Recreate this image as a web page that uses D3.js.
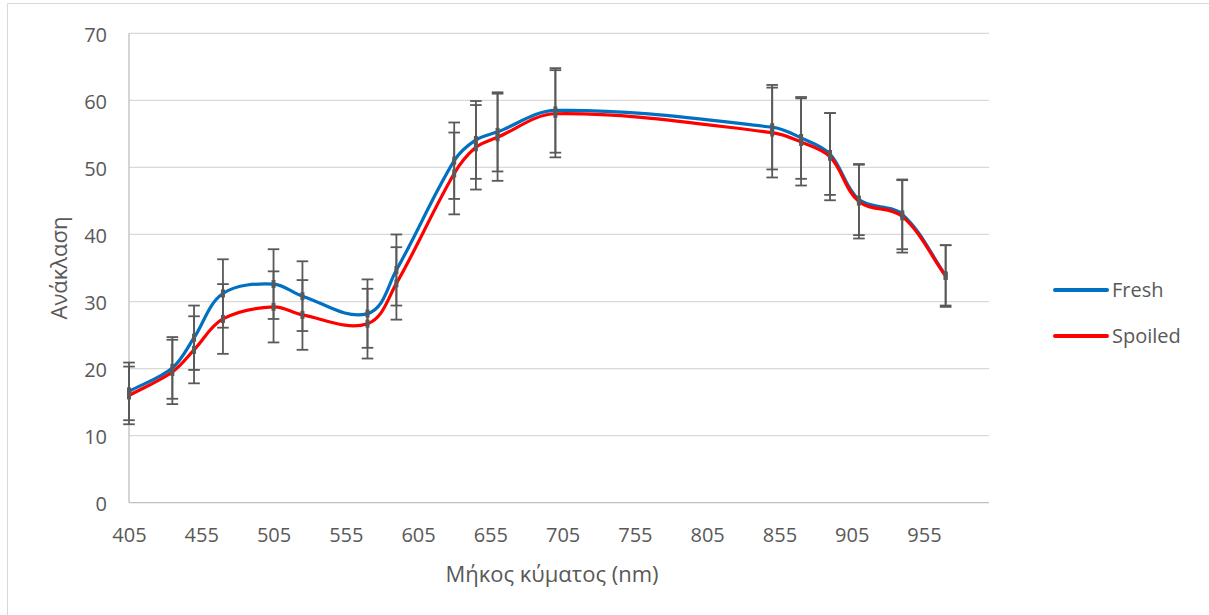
<!DOCTYPE html>
<html>
<head>
<meta charset="utf-8">
<script src="https://cdn.jsdelivr.net/npm/d3@7"></script>
<style>
  html, body { margin: 0; padding: 0; background: #fff; }
  svg { display: block; }
  text { font-family: "Open Sans", "Noto Sans", sans-serif; fill: #595959; }
</style>
</head>
<body>
<svg id="chart" width="1209" height="615"></svg>
<script>
// Reflectance spectra (mean ± SD) of fresh and spoiled samples
const wavelengths = [405, 435, 450, 470, 505, 525, 570, 590, 630, 645, 660, 700, 850, 870, 890, 910, 940, 970];
const freshValues   = [16.6, 20.1, 24.6, 31.2, 32.6, 30.8, 28.2, 34.7, 51.0, 54.1, 55.3, 58.5, 56.0, 54.4, 52.0, 45.2, 43.0, 33.9];
const freshErrors   = [4.3, 4.6, 4.8, 5.1, 5.2, 5.2, 5.1, 5.3, 5.7, 5.8, 5.9, 6.3, 6.3, 6.1, 6.1, 5.3, 5.2, 4.5];
const spoiledValues = [16.0, 19.5, 22.8, 27.4, 29.2, 28.0, 26.7, 32.7, 49.1, 53.0, 54.5, 58.0, 55.2, 53.8, 51.6, 44.9, 42.7, 33.8];
const spoiledErrors = [4.3, 4.8, 5.0, 5.2, 5.3, 5.2, 5.2, 5.4, 6.1, 6.3, 6.5, 6.5, 6.7, 6.5, 6.5, 5.5, 5.4, 4.6];
const seriesNames = ["Fresh", "Spoiled"];
const seriesColors = ["#0070C0", "#FF0000"];
const xTickValues = [405, 455, 505, 555, 605, 655, 705, 755, 805, 855, 905, 955];
const yTickValues = [0, 10, 20, 30, 40, 50, 60, 70];
const xTitle = "Μήκος κύματος (nm)";
const yTitle = "Ανάκλαση";

const series = [
  { name: seriesNames[0], color: seriesColors[0],
    points: wavelengths.map((w, i) => ({ x: w, y: freshValues[i], e: freshErrors[i] })) },
  { name: seriesNames[1], color: seriesColors[1],
    points: wavelengths.map((w, i) => ({ x: w, y: spoiledValues[i], e: spoiledErrors[i] })) }
];

const svg = d3.select("#chart");
const plot = { left: 129, right: 989, top: 33.3, bottom: 502.7 };

const x = d3.scaleLinear().domain([405, 1000]).range([plot.left, plot.right]);
const y = d3.scaleLinear().domain([0, 70]).range([plot.bottom, plot.top]);

// chart frame
svg.append("path")
  .attr("d", "M7.5,615 L7.5,3.5 L1209,3.5")
  .attr("fill", "none").attr("stroke", "#d9d9d9").attr("stroke-width", 1);

// horizontal gridlines
svg.append("g")
  .selectAll("line")
  .data(yTickValues.filter(v => v > 0))
  .join("line")
  .attr("x1", plot.left).attr("x2", plot.right)
  .attr("y1", d => y(d)).attr("y2", d => y(d))
  .attr("stroke", "#d9d9d9").attr("stroke-width", 1.3);

// axis lines
svg.append("line")
  .attr("x1", plot.left).attr("x2", plot.right)
  .attr("y1", y(0)).attr("y2", y(0))
  .attr("stroke", "#bfbfbf").attr("stroke-width", 1.3);
svg.append("line")
  .attr("x1", plot.left).attr("x2", plot.left)
  .attr("y1", y(0)).attr("y2", y(70))
  .attr("stroke", "#bfbfbf").attr("stroke-width", 1.3);

// y axis labels
const yAxis = d3.axisLeft(y).tickValues(yTickValues).tickSize(0).tickPadding(0);
const gy = svg.append("g").attr("transform", `translate(${plot.left - 22},0)`).call(yAxis);
gy.select(".domain").remove();
gy.selectAll("text").style("font-size", "20px").attr("fill", "#595959")
  .attr("dy", "0.4em").style("font-family", "'Open Sans', sans-serif");

// x axis labels
const xAxis = d3.axisBottom(x).tickValues(xTickValues).tickSize(0).tickPadding(0);
const gx = svg.append("g").attr("transform", `translate(0,${plot.bottom + 25})`).call(xAxis);
gx.select(".domain").remove();
gx.selectAll("text").style("font-size", "20px").attr("fill", "#595959")
  .attr("dy", "0.71em").style("font-family", "'Open Sans', sans-serif");

// axis titles
svg.append("text")
  .attr("x", 552).attr("y", 582)
  .attr("text-anchor", "middle")
  .style("font-size", "22px")
  .text(xTitle);
svg.append("text")
  .attr("transform", "translate(67,268) rotate(-90)")
  .attr("text-anchor", "middle")
  .style("font-size", "22px")
  .text(yTitle);

// smoothed line: cubic Bézier segments whose handles follow the neighbour
// direction and are scaled to one third of each segment's length
function smoothPath(pts) {
  const p = d3.path();
  const n = pts.length;
  p.moveTo(pts[0][0], pts[0][1]);
  const unit = (a, b) => {
    const dx = b[0] - a[0], dy = b[1] - a[1];
    const len = Math.hypot(dx, dy) || 1;
    return [dx / len, dy / len];
  };
  for (let i = 0; i < n - 1; i++) {
    const p0 = pts[Math.max(i - 1, 0)];
    const p1 = pts[i];
    const p2 = pts[i + 1];
    const p3 = pts[Math.min(i + 2, n - 1)];
    const d = Math.hypot(p2[0] - p1[0], p2[1] - p1[1]) / 3;
    const t1 = unit(p0, p2);
    const t2 = unit(p1, p3);
    p.bezierCurveTo(
      p1[0] + t1[0] * d, p1[1] + t1[1] * d,
      p2[0] - t2[0] * d, p2[1] - t2[1] * d,
      p2[0], p2[1]
    );
  }
  return p.toString();
}

svg.append("g")
  .selectAll("path")
  .data(series)
  .join("path")
  .attr("d", d => smoothPath(d.points.map(pt => [x(pt.x), y(pt.y)])))
  .attr("fill", "none")
  .attr("stroke", d => d.color)
  .attr("stroke-width", 3.2)
  .attr("stroke-linejoin", "round");

// error bars
const errG = svg.append("g").attr("stroke", "#595959").attr("fill", "#595959");
const capHalf = 5.8;
series.forEach(s => {
  const g = errG.append("g");
  g.selectAll("line.v")
    .data(s.points)
    .join("line")
    .attr("class", "v")
    .attr("x1", d => x(d.x)).attr("x2", d => x(d.x))
    .attr("y1", d => y(d.y + d.e)).attr("y2", d => y(d.y - d.e))
    .attr("stroke-width", 1.8);
  g.selectAll("line.top")
    .data(s.points)
    .join("line")
    .attr("class", "top")
    .attr("x1", d => x(d.x) - capHalf).attr("x2", d => x(d.x) + capHalf)
    .attr("y1", d => y(d.y + d.e)).attr("y2", d => y(d.y + d.e))
    .attr("stroke-width", 1.8);
  g.selectAll("line.bot")
    .data(s.points)
    .join("line")
    .attr("class", "bot")
    .attr("x1", d => x(d.x) - capHalf).attr("x2", d => x(d.x) + capHalf)
    .attr("y1", d => y(d.y - d.e)).attr("y2", d => y(d.y - d.e))
    .attr("stroke-width", 1.8);
  g.selectAll("rect")
    .data(s.points)
    .join("rect")
    .attr("x", d => x(d.x) - 2).attr("y", d => y(d.y) - 4)
    .attr("width", 4).attr("height", 8)
    .attr("stroke", "none");
});

// legend
const legend = svg.append("g");
const legendY = [290, 336];
series.forEach((s, i) => {
  legend.append("line")
    .attr("x1", 1055).attr("x2", 1107)
    .attr("y1", legendY[i]).attr("y2", legendY[i])
    .attr("stroke", s.color).attr("stroke-width", 4)
    .attr("stroke-linecap", "round");
  legend.append("text")
    .attr("x", 1112).attr("y", legendY[i])
    .attr("dy", "0.37em")
    .style("font-size", "20px")
    .text(s.name);
});
</script>
</body>
</html>
